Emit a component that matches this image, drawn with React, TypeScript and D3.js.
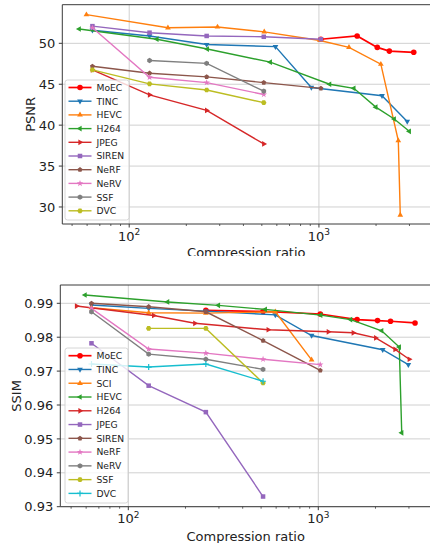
import React from 'react';
import * as d3 from 'd3';

type Pt = [number, number];

// ---- PSNR panel data (compression ratio, PSNR) ----
const psnrMoEC: Pt[] = [[1024, 50.5], [1590, 50.9], [2030, 49.5], [2350, 49.05], [3160, 48.9]];
const psnrTINC: Pt[] = [[64, 51.6], [128, 50.9], [256, 49.85], [590, 49.6], [912, 44.6], [2150, 43.6], [2920, 40.45]];
const psnrHEVC: Pt[] = [[59.5, 53.5], [160, 51.9], [292, 52.0], [515, 51.4], [1012, 50.35], [1440, 49.5], [2120, 47.45], [2620, 38.1], [2684, 29.0]];
const psnrH264: Pt[] = [[54.5, 51.75], [140, 50.5], [258, 49.3], [554, 47.7], [1138, 45.0], [1528, 44.5], [1995, 42.2], [2494, 40.75], [2993, 39.25]];
const psnrJPEG: Pt[] = [[64, 46.75], [128, 43.7], [256, 41.8], [512, 37.7]];
const psnrSIREN: Pt[] = [[64, 52.1], [128, 51.3], [256, 50.9], [512, 50.8], [1024, 50.5]];
const psnrNeRF: Pt[] = [[64, 47.2], [128, 46.35], [256, 45.9], [512, 45.2], [1024, 44.5]];
const psnrNeRV: Pt[] = [[64, 51.9], [128, 45.85], [256, 45.2], [512, 43.75]];
const psnrSSF: Pt[] = [[128, 47.9], [256, 47.55], [512, 44.15]];
const psnrDVC: Pt[] = [[64, 46.75], [128, 45.05], [256, 44.3], [512, 42.75]];

// ---- SSIM panel data (compression ratio, SSIM) ----
const ssimMoEC: Pt[] = [[256, 0.9879], [512, 0.9876], [1024, 0.98685], [1600, 0.9852], [2050, 0.9849], [2400, 0.9847], [3230, 0.9842]];
const ssimTINC: Pt[] = [[64, 0.9895], [128, 0.9885], [256, 0.9877], [594, 0.9866], [922, 0.9805], [2183, 0.9763], [2978, 0.9719]];
const ssimSCI: Pt[] = [[64, 0.9887], [128, 0.9872], [256, 0.9871], [594, 0.9875], [922, 0.9733]];
const ssimHEVC: Pt[] = [[59.2, 0.99245], [161, 0.9904], [298, 0.9894], [526, 0.9882], [1030, 0.9865], [1479, 0.9852], [2156, 0.9819], [2668, 0.9771], [2749, 0.9518]];
const ssimH264: Pt[] = [[53.4, 0.9892], [136, 0.9864], [224, 0.9841], [545, 0.9822], [1129, 0.9816], [1528, 0.9813], [2005, 0.9798], [2535, 0.9764], [3011, 0.9735]];
const ssimJPEG: Pt[] = [[64, 0.9782], [128, 0.9657], [256, 0.9579], [512, 0.933]];
const ssimSIREN: Pt[] = [[64, 0.99], [128, 0.989], [256, 0.9875], [512, 0.979], [1024, 0.9702]];
const ssimNeRF: Pt[] = [[64, 0.9885], [128, 0.9765], [256, 0.9753], [512, 0.9735], [1024, 0.9719]];
const ssimNeRV: Pt[] = [[64, 0.9875], [128, 0.975], [256, 0.9735], [512, 0.9705]];
const ssimSSF: Pt[] = [[128, 0.9826], [256, 0.9826], [512, 0.9665]];
const ssimDVC: Pt[] = [[64, 0.9721], [128, 0.9712], [256, 0.9721], [512, 0.967]];

const psnrTicks = [30, 35, 40, 45, 50];
const ssimTicks = [0.93, 0.94, 0.95, 0.96, 0.97, 0.98, 0.99];
const xMajor = [100, 1000];

type Series = { name: string; color: string; marker: string; data: Pt[] };

const psnrSeries: Series[] = [
  { name: 'MoEC', color: '#ff0000', marker: 'o', data: psnrMoEC },
  { name: 'TINC', color: '#1f77b4', marker: 'v', data: psnrTINC },
  { name: 'HEVC', color: '#ff7f0e', marker: '^', data: psnrHEVC },
  { name: 'H264', color: '#2ca02c', marker: '<', data: psnrH264 },
  { name: 'JPEG', color: '#d62728', marker: '>', data: psnrJPEG },
  { name: 'SIREN', color: '#9467bd', marker: 's', data: psnrSIREN },
  { name: 'NeRF', color: '#8c564b', marker: 'p', data: psnrNeRF },
  { name: 'NeRV', color: '#e377c2', marker: '*', data: psnrNeRV },
  { name: 'SSF', color: '#7f7f7f', marker: 'h', data: psnrSSF },
  { name: 'DVC', color: '#bcbd22', marker: 'H', data: psnrDVC },
];

const ssimSeries: Series[] = [
  { name: 'MoEC', color: '#ff0000', marker: 'o', data: ssimMoEC },
  { name: 'TINC', color: '#1f77b4', marker: 'v', data: ssimTINC },
  { name: 'SCI', color: '#ff7f0e', marker: '^', data: ssimSCI },
  { name: 'HEVC', color: '#2ca02c', marker: '<', data: ssimHEVC },
  { name: 'H264', color: '#d62728', marker: '>', data: ssimH264 },
  { name: 'JPEG', color: '#9467bd', marker: 's', data: ssimJPEG },
  { name: 'SIREN', color: '#8c564b', marker: 'p', data: ssimSIREN },
  { name: 'NeRF', color: '#e377c2', marker: '*', data: ssimNeRF },
  { name: 'NeRV', color: '#7f7f7f', marker: 'h', data: ssimNeRV },
  { name: 'SSF', color: '#bcbd22', marker: 'H', data: ssimSSF },
  { name: 'DVC', color: '#17becf', marker: '+', data: ssimDVC },
];

const FONT = 'DejaVu Sans';

const poly = (n: number, r: number, rot: number) => {
  const pts = d3.range(n).map(k => {
    const a = rot + (2 * Math.PI * k) / n;
    return [r * Math.sin(a), -r * Math.cos(a)];
  });
  return 'M' + pts.map(p => p[0].toFixed(2) + ',' + p[1].toFixed(2)).join('L') + 'Z';
};

const star = (r: number) => {
  const pts = d3.range(10).map(k => {
    const a = (Math.PI * k) / 5;
    const rr = k % 2 ? r * 0.4 : r;
    return [rr * Math.sin(a), -rr * Math.cos(a)];
  });
  return 'M' + pts.map(p => p[0].toFixed(2) + ',' + p[1].toFixed(2)).join('L') + 'Z';
};

const Marker = ({ m, x, y, color }: { m: string; x: number; y: number; color: string }) => {
  const t = `translate(${x},${y})`;
  if (m === 'o') return <circle cx={x} cy={y} r={2.8} fill={color} />;
  if (m === '+')
    return <path transform={t} d="M-3,0H3M0,-3V3" stroke={color} strokeWidth={1.2} fill="none" />;
  let d = '';
  if (m === '^') d = poly(3, 3.3, 0);
  else if (m === 'v') d = poly(3, 3.3, Math.PI);
  else if (m === '<') d = poly(3, 3.3, -Math.PI / 2);
  else if (m === '>') d = poly(3, 3.3, Math.PI / 2);
  else if (m === 's') d = poly(4, 3.2, Math.PI / 4);
  else if (m === 'p') d = poly(5, 2.6, 0);
  else if (m === 'h') d = poly(6, 2.7, 0);
  else if (m === 'H') d = poly(6, 2.7, Math.PI / 6);
  else if (m === '*') d = star(3.4);
  return <path transform={t} d={d} fill={color} />;
};

type PanelCfg = {
  left: number; right: number; top: number; bottom: number;
  xDomain: [number, number]; yDomain: [number, number];
  yTicks: number[]; yFmt: (v: number) => string;
  series: Series[]; ylabel: string; ylabelX: number;
  xTickBase: number; xLabelBase: number; xLabelX: number; clipY?: number; id: string;
  legend: { x: number; y: number; w: number; h: number; first: number; step: number };
};

const Panel = ({ c }: { c: PanelCfg }) => {
  const x = d3.scaleLog().domain(c.xDomain).range([c.left, c.right]);
  const y = d3.scaleLinear().domain(c.yDomain).range([c.bottom, c.top]);
  const line = d3.line<Pt>().x(d => x(d[0])).y(d => y(d[1]));
  const minor: number[] = [];
  [10, 100, 1000].forEach(b => d3.range(2, 10).forEach(k => {
    const v = k * b;
    if (v > c.xDomain[0] && v < c.xDomain[1]) minor.push(v);
  }));
  const grid = '#d0d0d0';
  const axis = '#3a3a3a';
  const L = c.legend;
  return (
    <g fontFamily={FONT}>
      {c.clipY !== undefined && (
        <clipPath id={c.id}>
          <rect x={0} y={0} width={430} height={c.clipY} />
        </clipPath>
      )}
      {xMajor.map(v => (
        <line key={'gx' + v} x1={x(v)} x2={x(v)} y1={c.top} y2={c.bottom} stroke={grid} strokeWidth={1} />
      ))}
      {c.yTicks.map(v => (
        <line key={'gy' + v} x1={c.left} x2={c.right} y1={y(v)} y2={y(v)} stroke={grid} strokeWidth={1} />
      ))}
      {c.series.map(s => (
        <g key={s.name}>
          <path d={line(s.data) || ''} fill="none" stroke={s.color} strokeWidth={s.name === 'MoEC' ? 1.7 : 1.4} />
          {s.data.map((d, i) => (
            <Marker key={i} m={s.marker} x={x(d[0])} y={y(d[1])} color={s.color} />
          ))}
        </g>
      ))}
      <line x1={c.left} x2={c.left} y1={c.top} y2={c.bottom} stroke={axis} strokeWidth={1} />
      <line x1={c.left} x2={c.right} y1={c.bottom} y2={c.bottom} stroke={axis} strokeWidth={1} />
      <line x1={c.left} x2={c.right} y1={c.top} y2={c.top} stroke={axis} strokeWidth={1} />
      {c.yTicks.map(v => (
        <g key={'ty' + v}>
          <line x1={c.left - 3.5} x2={c.left} y1={y(v)} y2={y(v)} stroke={axis} strokeWidth={1} />
          <text x={c.left - 7} y={y(v) + 4.6} textAnchor="end" fontSize={13} fill="#222">{c.yFmt(v)}</text>
        </g>
      ))}
      {minor.map(v => (
        <line key={'mx' + v} x1={x(v)} x2={x(v)} y1={c.bottom} y2={c.bottom + 2} stroke={axis} strokeWidth={0.8} />
      ))}
      {xMajor.map(v => (
        <g key={'tx' + v}>
          <line x1={x(v)} x2={x(v)} y1={c.bottom} y2={c.bottom + 3.5} stroke={axis} strokeWidth={1} />
          <text x={x(v)} y={c.xTickBase} textAnchor="middle" fontSize={13} fill="#222">
            10<tspan fontSize={9} dy={-5.5}>{Math.round(Math.log10(v))}</tspan>
          </text>
        </g>
      ))}
      <text
        x={c.xLabelX}
        y={c.xLabelBase}
        textAnchor="middle"
        fontSize={13}
        fill="#222"
        clipPath={c.clipY !== undefined ? `url(#${c.id})` : undefined}
      >
        Compression ratio
      </text>
      <text
        transform={`translate(${c.ylabelX},${(c.top + c.bottom) / 2}) rotate(-90)`}
        textAnchor="middle"
        fontSize={13}
        fill="#222"
      >
        {c.ylabel}
      </text>
      <rect x={L.x} y={L.y} width={L.w} height={L.h} rx={2.5} fill="#fff" fillOpacity={0.8} stroke="#cccccc" strokeWidth={0.8} />
      {c.series.map((s, i) => {
        const cy = L.first + i * L.step;
        return (
          <g key={'lg' + s.name}>
            <line x1={L.x + 3.5} x2={L.x + 26.5} y1={cy} y2={cy} stroke={s.color} strokeWidth={s.name === 'MoEC' ? 1.7 : 1.4} />
            <Marker m={s.marker} x={L.x + 15} y={cy} color={s.color} />
            <text x={L.x + 31.5} y={cy + 3.4} fontSize={9.2} fill="#222">{s.name}</text>
          </g>
        );
      })}
    </g>
  );
};

const topCfg: PanelCfg = {
  id: 'clipTop',
  left: 62.3, right: 440, top: 4.7, bottom: 224,
  xDomain: [44.4, 4346], yDomain: [27.92, 54.72],
  yTicks: psnrTicks, yFmt: v => String(v),
  series: psnrSeries, ylabel: 'PSNR', ylabelX: 35,
  xTickBase: 240.5, xLabelBase: 257, xLabelX: 246.3, clipY: 256,
  legend: { x: 65, y: 80, w: 64, h: 140, first: 87.5, step: 13.7 },
};

const bottomCfg: PanelCfg = {
  id: 'clipBottom',
  left: 60.3, right: 440, top: 285, bottom: 506.7,
  xDomain: [43.86, 4371], yDomain: [0.93, 0.9954],
  yTicks: ssimTicks, yFmt: v => v.toFixed(2),
  series: ssimSeries, ylabel: 'SSIM', ylabelX: 20.5,
  xTickBase: 523, xLabelBase: 541, xLabelX: 245.7,
  legend: { x: 65, y: 348, w: 63, h: 155, first: 355.7, step: 13.77 },
};

export default function App() {
  return (
    <svg
      width={430}
      height={543}
      style={{ position: 'absolute', left: 0, top: 0, background: '#fff' }}
    >
      <rect x={0} y={0} width={430} height={543} fill="#fff" />
      <Panel c={topCfg} />
      <Panel c={bottomCfg} />
    </svg>
  );
}
